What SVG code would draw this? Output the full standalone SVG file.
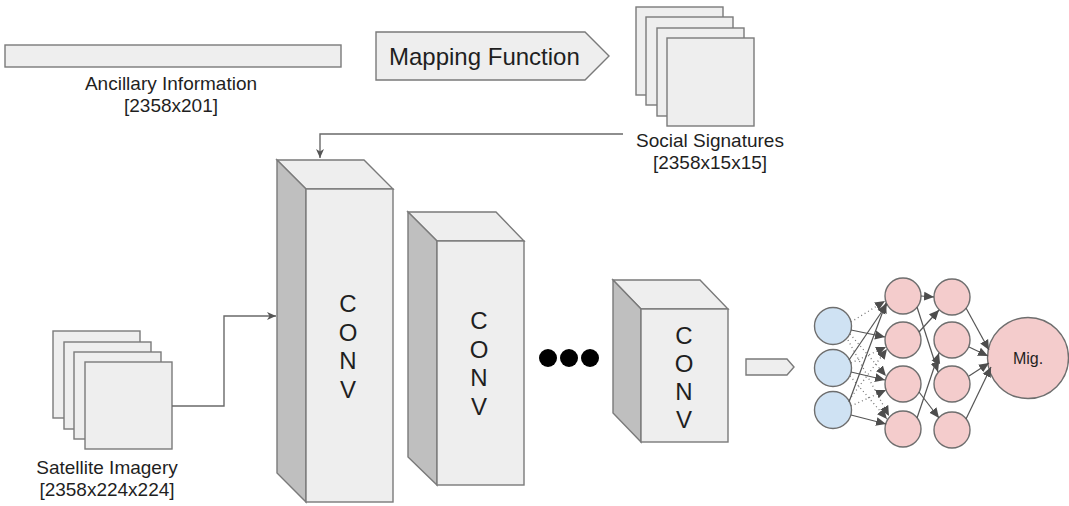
<svg xmlns="http://www.w3.org/2000/svg" width="1069" height="506" viewBox="0 0 1069 506">
<style>
.box{fill:#eeeeee;stroke:#7a7a7a;stroke-width:1.4}
.side{fill:#bfbfbf;stroke:#7a7a7a;stroke-width:1.4}
.lbl{font-family:"Liberation Sans",Arial,sans-serif;font-size:19px;fill:#1f1f1f;text-anchor:middle}
.conv{font-family:"Liberation Sans",Arial,sans-serif;font-size:24px;fill:#1f1f1f;text-anchor:middle}
.con{fill:none;stroke:#6a6a6a;stroke-width:1.4}
.nn{fill:none;stroke:#555;stroke-width:1.2}
.dot{fill:none;stroke:#777;stroke-width:1.3;stroke-dasharray:1 3}
.blue{fill:#cfe2f3;stroke:#6e6e6e;stroke-width:1.4}
.pink{fill:#f4cccc;stroke:#6e6e6e;stroke-width:1.4}
</style>
<defs>
<marker id="arr" markerUnits="userSpaceOnUse" markerWidth="10" markerHeight="10" refX="9" refY="5" orient="auto">
<path d="M0,1 L9,5 L0,9 L2.5,5 z" fill="#555"/>
</marker>
<marker id="nnarr" markerUnits="userSpaceOnUse" markerWidth="12" markerHeight="12" refX="10" refY="6" orient="auto">
<path d="M0,1.5 L10,6 L0,10.5 z" fill="#4d4d4d"/>
</marker>
</defs>
<rect width="1069" height="506" fill="#ffffff"/>

<g id="ancillary">
<rect class="box" x="5" y="45" width="336" height="22"/>
<text class="lbl" x="171" y="90">Ancillary Information</text>
<text class="lbl" x="171" y="112">[2358x201]</text>
</g>

<g id="mapping">
<polygon class="box" points="376,32 585,32 609,56 585,80 376,80"/>
<text x="389" y="65" font-family="'Liberation Sans',Arial,sans-serif" font-size="24" fill="#1f1f1f">Mapping Function</text>
</g>

<g id="social">
<rect class="box" x="636" y="7" width="87" height="88"/>
<rect class="box" x="646" y="17" width="87" height="88"/>
<rect class="box" x="657" y="28" width="87" height="88"/>
<rect class="box" x="667" y="38" width="87" height="88"/>
<text class="lbl" x="710" y="147">Social Signatures</text>
<text class="lbl" x="710" y="169">[2358x15x15]</text>
</g>

<g id="satellite">
<rect class="box" x="53" y="331" width="87" height="87"/>
<rect class="box" x="64" y="342" width="87" height="87"/>
<rect class="box" x="74" y="352" width="87" height="87"/>
<rect class="box" x="85" y="362" width="87" height="87"/>
<text class="lbl" x="107" y="474">Satellite Imagery</text>
<text class="lbl" x="107" y="496">[2358x224x224]</text>
</g>

<g id="conv1">
<polygon class="box" points="277,160 364,160 393,189 306,189"/>
<polygon class="side" points="277,160 306,189 306,502 277,473"/>
<rect class="box" x="306" y="189" width="87" height="313"/>
<text class="conv" x="348" y="312">C</text>
<text class="conv" x="348" y="341">O</text>
<text class="conv" x="348" y="369">N</text>
<text class="conv" x="348" y="398">V</text>
</g>

<g id="conv2">
<polygon class="box" points="408,212 496,212 524,241 437,241"/>
<polygon class="side" points="408,212 437,241 437,485 408,457"/>
<rect class="box" x="437" y="241" width="87" height="244"/>
<text class="conv" x="479" y="329">C</text>
<text class="conv" x="479" y="358">O</text>
<text class="conv" x="479" y="386">N</text>
<text class="conv" x="479" y="415">V</text>
</g>

<g id="ellipsis">
<circle cx="548" cy="358" r="9" fill="#000"/>
<circle cx="569" cy="358" r="9" fill="#000"/>
<circle cx="590" cy="358" r="9" fill="#000"/>
</g>

<g id="conv3">
<polygon class="box" points="613,280 700,280 728,309 641,309"/>
<polygon class="side" points="613,280 641,309 641,442 613,413"/>
<rect class="box" x="641" y="309" width="87" height="133"/>
<text class="conv" x="684" y="344">C</text>
<text class="conv" x="684" y="372">O</text>
<text class="conv" x="684" y="400">N</text>
<text class="conv" x="684" y="428">V</text>
</g>

<g id="small-arrow">
<polygon class="box" points="746,359 787,359 794,367 787,375 746,375"/>
</g>

<g id="connectors">
<path class="con" d="M623,134 H320 V158" marker-end="url(#arr)"/>
<path class="con" d="M172,406 H224 V316 H276" marker-end="url(#arr)"/>
</g>

<g id="network">
<g id="nodes">
<circle class="blue" cx="833" cy="326" r="18.5"/>
<circle class="blue" cx="833" cy="368" r="18.5"/>
<circle class="blue" cx="833" cy="410" r="18.5"/>
<circle class="pink" cx="903" cy="296" r="18"/>
<circle class="pink" cx="903" cy="340" r="18"/>
<circle class="pink" cx="903" cy="384" r="18"/>
<circle class="pink" cx="903" cy="429" r="18"/>
<circle class="pink" cx="952" cy="297" r="18"/>
<circle class="pink" cx="952" cy="340" r="18"/>
<circle class="pink" cx="952" cy="384" r="18"/>
<circle class="pink" cx="952" cy="430" r="18"/>
<circle class="pink" cx="1028" cy="358" r="40.5"/>
<text x="1028" y="364" text-anchor="middle" font-family="'Liberation Sans',Arial,sans-serif" font-size="16" fill="#1f1f1f">Mig.</text>
</g>
<g id="nn-edges">
<line class="dot" x1="851" y1="322" x2="885" y2="301" marker-end="url(#nnarr)"/>
<line class="dot" x1="850" y1="334" x2="886" y2="376" marker-end="url(#nnarr)"/>
<line class="dot" x1="848" y1="340" x2="889" y2="416" marker-end="url(#nnarr)"/>
<line class="dot" x1="851" y1="363" x2="886" y2="347" marker-end="url(#nnarr)"/>
<line class="dot" x1="850" y1="376" x2="887" y2="419" marker-end="url(#nnarr)"/>
<line class="dot" x1="849" y1="400" x2="887" y2="349" marker-end="url(#nnarr)"/>
<line class="dot" x1="851" y1="406" x2="886" y2="390" marker-end="url(#nnarr)"/>
<line class="nn" x1="851" y1="330" x2="885" y2="337" marker-end="url(#nnarr)"/>
<line class="nn" x1="851" y1="372" x2="885" y2="380" marker-end="url(#nnarr)"/>
<line class="nn" x1="851" y1="415" x2="886" y2="424" marker-end="url(#nnarr)"/>
<line class="nn" x1="849" y1="402" x2="886" y2="303" marker-end="url(#nnarr)"/>
<line class="nn" x1="849" y1="360" x2="887" y2="304" marker-end="url(#nnarr)"/>
<line class="nn" x1="921" y1="296" x2="934" y2="297" marker-end="url(#nnarr)"/>
<line class="nn" x1="917" y1="307" x2="938" y2="372" marker-end="url(#nnarr)"/>
<line class="nn" x1="919" y1="332" x2="939" y2="310" marker-end="url(#nnarr)"/>
<line class="nn" x1="919" y1="392" x2="939" y2="418" marker-end="url(#nnarr)"/>
<line class="nn" x1="917" y1="418" x2="939" y2="353" marker-end="url(#nnarr)"/>
<line class="nn" x1="966" y1="308" x2="989" y2="350" marker-end="url(#nnarr)"/>
<line class="nn" x1="969" y1="347" x2="988" y2="356" marker-end="url(#nnarr)"/>
<line class="nn" x1="969" y1="376" x2="989" y2="363" marker-end="url(#nnarr)"/>
<line class="nn" x1="966" y1="419" x2="991" y2="367" marker-end="url(#nnarr)"/>
</g>
</g>
</svg>
